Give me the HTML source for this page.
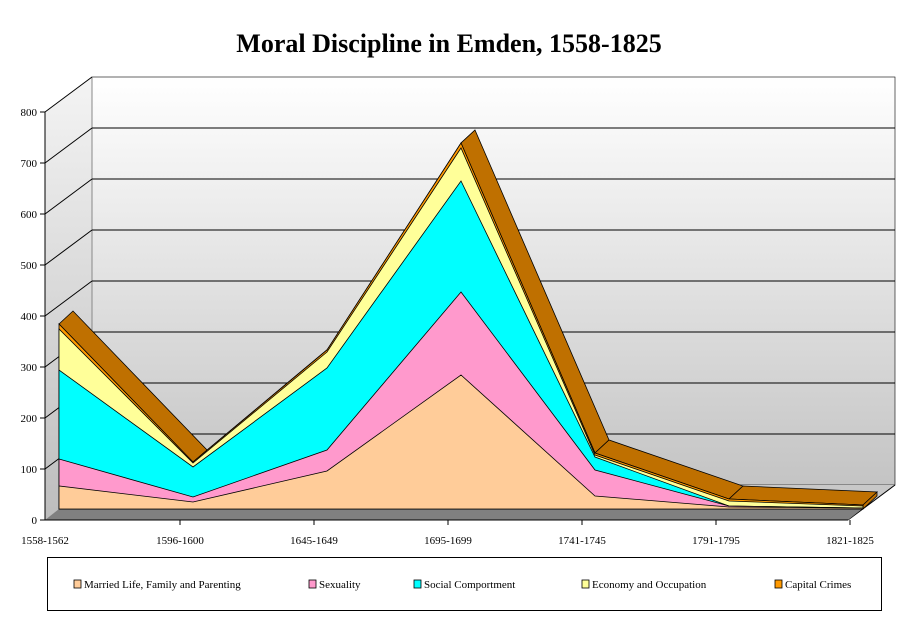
<!DOCTYPE html>
<html><head><meta charset="utf-8"><style>
html,body{margin:0;padding:0;background:#fff;}
svg{display:block;font-family:"Liberation Serif",serif;}
</style></head><body>
<svg width="911" height="623" viewBox="0 0 911 623" xmlns="http://www.w3.org/2000/svg">
<defs>
<linearGradient id="wall" x1="0" y1="0" x2="0" y2="1">
<stop offset="0" stop-color="#ffffff"/><stop offset="1" stop-color="#c4c4c4"/></linearGradient>
<linearGradient id="side" x1="0" y1="0" x2="0" y2="1">
<stop offset="0" stop-color="#f4f4f4"/><stop offset="1" stop-color="#bdbdbd"/></linearGradient>
</defs>
<text x="449" y="52" text-anchor="middle" font-size="26" font-weight="bold">Moral Discipline in Emden, 1558-1825</text>
<rect x="92" y="77" width="803" height="408" fill="url(#wall)" stroke="#000" stroke-width="0.6"/>
<polygon points="45,112 92,77 92,485 45,520" fill="url(#side)"/>
<polygon points="45,520 92,485 895,485 848,520" fill="#c8c8c8"/>
<line x1="92" y1="77" x2="92" y2="485" stroke="#888" stroke-width="1"/>
<line x1="848" y1="520" x2="895" y2="485" stroke="#000" stroke-width="1"/>
<g stroke="#000" stroke-width="1">
<line x1="92" y1="128" x2="895" y2="128"/><line x1="92" y1="179" x2="895" y2="179"/>
<line x1="92" y1="230" x2="895" y2="230"/><line x1="92" y1="281" x2="895" y2="281"/>
<line x1="92" y1="332" x2="895" y2="332"/><line x1="92" y1="383" x2="895" y2="383"/>
<line x1="92" y1="434" x2="895" y2="434"/>
<line x1="45" y1="112" x2="92" y2="77"/><line x1="45" y1="163" x2="92" y2="128"/>
<line x1="45" y1="214" x2="92" y2="179"/><line x1="45" y1="265" x2="92" y2="230"/>
<line x1="45" y1="316" x2="92" y2="281"/><line x1="45" y1="367" x2="92" y2="332"/>
<line x1="45" y1="418" x2="92" y2="383"/><line x1="45" y1="469" x2="92" y2="434"/>
</g>
<polygon points="45,520 59,509 862,509 848,520" fill="#808080"/>
<g stroke="#000" stroke-width="0.8" fill="#bf7000">
<polygon points="59,324 193,462 207,450 73,311"/>
<polygon points="193,462 327,350 341,338 207,450"/>
<polygon points="327,350 461,143 475,130 341,338"/>
<polygon points="461,143 595,453 609,440 475,130"/>
<polygon points="595,453 729,499 743,486 609,440"/>
<polygon points="729,499 863,505 877,492 743,486"/>
<polygon points="863,505 877,492 877,496 863,509"/>
</g>
<g stroke="#000" stroke-width="0.8">
<polygon fill="#ff9900" points="59,509 59,324 193,462 327,350 461,143 595,453 729,499 863,505 863,509"/>
<polygon fill="#ffff99" points="59,509 59,329 193,463 327,352 461,148 595,455 729,501 863,506 863,509"/>
<polygon fill="#00ffff" points="59,509 59,370 193,467 327,368 461,181 595,457 729,506 863,508 863,509"/>
<polygon fill="#ff99cc" points="59,509 59,459 193,497 327,450 461,292 595,470 729,506 863,508 863,509"/>
<polygon fill="#ffcc99" points="59,509 59,486 193,502 327,471 461,375 595,496 729,507 863,508 863,509"/>
</g>
<g stroke="#000" stroke-width="1">
<line x1="45" y1="112" x2="45" y2="520"/>
<line x1="45" y1="520" x2="848" y2="520"/>
<line x1="40" y1="520" x2="45" y2="520"/><line x1="40" y1="469" x2="45" y2="469"/>
<line x1="40" y1="418" x2="45" y2="418"/><line x1="40" y1="367" x2="45" y2="367"/>
<line x1="40" y1="316" x2="45" y2="316"/><line x1="40" y1="265" x2="45" y2="265"/>
<line x1="40" y1="214" x2="45" y2="214"/><line x1="40" y1="163" x2="45" y2="163"/>
<line x1="40" y1="112" x2="45" y2="112"/>
<line x1="180" y1="520" x2="180" y2="525"/><line x1="314" y1="520" x2="314" y2="525"/>
<line x1="448" y1="520" x2="448" y2="525"/><line x1="582" y1="520" x2="582" y2="525"/>
<line x1="716" y1="520" x2="716" y2="525"/><line x1="850" y1="520" x2="850" y2="525"/>
</g>
<g font-size="11" text-anchor="end">
<text x="37" y="524">0</text><text x="37" y="473">100</text><text x="37" y="422">200</text>
<text x="37" y="371">300</text><text x="37" y="320">400</text><text x="37" y="269">500</text>
<text x="37" y="218">600</text><text x="37" y="167">700</text><text x="37" y="116">800</text>
</g>
<g font-size="11" text-anchor="middle">
<text x="45" y="544">1558-1562</text><text x="180" y="544">1596-1600</text>
<text x="314" y="544">1645-1649</text><text x="448" y="544">1695-1699</text>
<text x="582" y="544">1741-1745</text><text x="716" y="544">1791-1795</text>
<text x="850" y="544">1821-1825</text>
</g>
<rect x="47.5" y="557.5" width="834" height="53" fill="#fff" stroke="#000"/>
<g font-size="11" stroke-width="0.8">
<rect x="74" y="580" width="7" height="8" fill="#ffcc99" stroke="#000"/><text x="84" y="588">Married Life, Family and Parenting</text>
<rect x="309" y="580" width="7" height="8" fill="#ff99cc" stroke="#000"/><text x="319" y="588">Sexuality</text>
<rect x="414" y="580" width="7" height="8" fill="#00ffff" stroke="#000"/><text x="424" y="588">Social Comportment</text>
<rect x="582" y="580" width="7" height="8" fill="#ffff99" stroke="#000"/><text x="592" y="588">Economy and Occupation</text>
<rect x="775" y="580" width="7" height="8" fill="#ff9900" stroke="#000"/><text x="785" y="588">Capital Crimes</text>
</g>
</svg>
</body></html>
